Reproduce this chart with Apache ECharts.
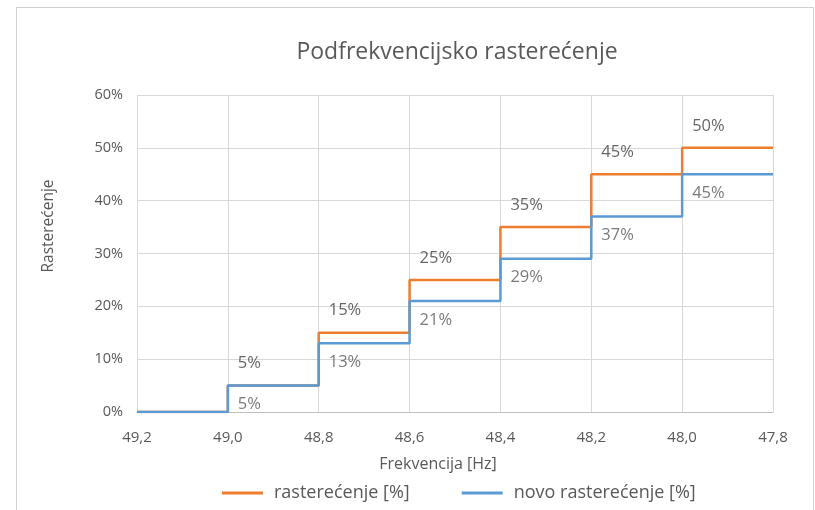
<!DOCTYPE html>
<html>
<head>
<meta charset="utf-8">
<script src="https://cdn.jsdelivr.net/npm/echarts@6/dist/echarts.min.js"></script>
<style>
html,body{margin:0;padding:0;background:#fff;}
#chart{width:815px;height:510px;}
</style>
</head>
<body>
<div id="chart"></div>
<script>
// Frequency steps (Hz)
var frequencies = [49.2, 49.0, 48.8, 48.6, 48.4, 48.2, 48.0, 47.8];
// Load shedding values (%) at each step (step starts at given frequency)
var rasterecenje = [0, 5, 15, 25, 35, 45, 50, 50];
var novoRasterecenje = [0, 5, 13, 21, 29, 37, 45, 45];
// Data labels for steps (frequency where the step starts, value)
var labelFreqs = [49.0, 48.8, 48.6, 48.4, 48.2, 48.0];
var labelOld = [5, 15, 25, 35, 45, 50];
var labelNew = [5, 13, 21, 29, 37, 45];

var seriesNames = ['rasterećenje [%]', 'novo rasterećenje [%]'];
var colors = ['#ED7D31', '#5B9BD5'];
var font = 'Open Sans, Noto Sans, sans-serif';

function pairs(xs, ys) { return xs.map(function (x, i) { return [x, ys[i]]; }); }

var chart = echarts.init(document.getElementById('chart'));
chart.setOption({
  animation: false,
  backgroundColor: '#fff',
  title: {
    text: 'Podfrekvencijsko rasterećenje',
    left: 452, top: 36, textAlign: 'center',
    textStyle: { fontFamily: font, fontSize: 23, fontWeight: 'normal', color: '#595959' }
  },
  graphic: [{
    type: 'rect', shape: { x: 16.5, y: 7.5, width: 797, height: 520 },
    style: { fill: 'none', stroke: '#d0d0d0', lineWidth: 1 }, silent: true, z: -1
  }],
  legend: {
    bottom: 3, left: 217,
    icon: 'rect', itemWidth: 41, itemHeight: 3, itemGap: 52,
    data: seriesNames,
    textStyle: { fontFamily: font, fontSize: 18, color: '#595959', padding: [0, 0, 0, 6] }
  },
  grid: { left: 137, right: 42, top: 95, bottom: 98 },
  xAxis: {
    type: 'value', min: 47.8, max: 49.2, interval: 0.2, inverse: true,
    name: 'Frekvencija [Hz]', nameLocation: 'middle', nameGap: 44,
    nameTextStyle: { fontFamily: font, fontSize: 16, color: '#595959', padding: [0, 34, 0, 0] },
    axisLine: { show: true, lineStyle: { color: '#bfbfbf' } },
    axisTick: { show: false },
    axisLabel: {
      margin: 18, fontFamily: font, fontSize: 15, color: '#595959',
      formatter: function (v) { return v.toFixed(1).replace('.', ','); }
    },
    splitLine: { show: true, lineStyle: { color: '#d9d9d9' } }
  },
  yAxis: {
    type: 'value', min: 0, max: 60, interval: 10,
    name: 'Rasterećenje', nameLocation: 'middle', nameGap: 80,
    nameTextStyle: { fontFamily: font, fontSize: 15.5, color: '#595959', padding: [0, 0, 0, 55] },
    axisLine: { show: false }, axisTick: { show: false },
    axisLabel: { margin: 14, fontFamily: font, fontSize: 14.5, color: '#595959', formatter: '{value}%' },
    splitLine: { show: true, lineStyle: { color: '#d9d9d9' } }
  },
  series: [
    {
      name: seriesNames[0], type: 'line', step: 'end', symbol: 'none',
      data: pairs(frequencies, rasterecenje),
      lineStyle: { color: colors[0], width: 2.5 }, itemStyle: { color: colors[0] }, z: 3
    },
    {
      name: seriesNames[1], type: 'line', step: 'end', symbol: 'none',
      data: pairs(frequencies, novoRasterecenje),
      lineStyle: { color: colors[1], width: 2.5 }, itemStyle: { color: colors[1] }, z: 4
    },
    {
      name: 'lblOld', type: 'scatter', symbolSize: 0, silent: true,
      data: pairs(labelFreqs, labelOld),
      label: {
        show: true, position: 'inside', align: 'left', verticalAlign: 'middle', offset: [10, -22],
        formatter: function (p) { return p.value[1] + '%'; },
        fontFamily: font, fontSize: 16.5, color: '#404040'
      }, z: 5
    },
    {
      name: 'lblNew', type: 'scatter', symbolSize: 0, silent: true,
      data: pairs(labelFreqs, labelNew),
      label: {
        show: true, position: 'inside', align: 'left', verticalAlign: 'middle', offset: [10, 19],
        formatter: function (p) { return p.value[1] + '%'; },
        fontFamily: font, fontSize: 16.5, color: '#595959'
      }, z: 5
    }
  ]
});
</script>
</body>
</html>
